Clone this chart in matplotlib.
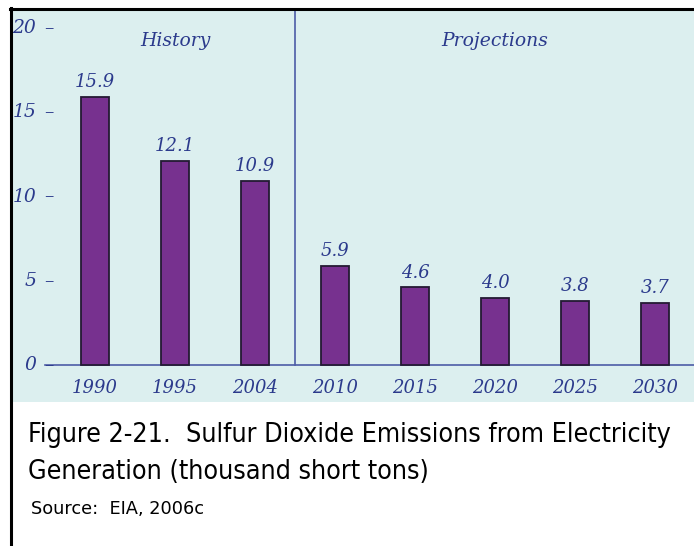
import matplotlib.pyplot as plt
from matplotlib.lines import Line2D

years = ['1990', '1995', '2004', '2010', '2015', '2020', '2025', '2030']
emissions = [15.9, 12.1, 10.9, 5.9, 4.6, 4.0, 3.8, 3.7]
yticks = [0, 5, 10, 15, 20]
n_history = 3

W, H = 694, 546
fig = plt.figure(figsize=(W / 100, H / 100), dpi=100)

def fx(px):
    return px / W

def fy(py):
    return 1 - py / H

# panel (light cyan area)
ax = fig.add_axes([fx(12), fy(402), fx(694) - fx(12), fy(10) - fy(402)])
ax.set_facecolor('#dcefef')
for s in ax.spines.values():
    s.set_visible(False)
ax.set_xticks([])
ax.set_yticks([])

txt_col = '#2b3a8c'
line_col = '#4d5ca6'
serif = dict(family='DejaVu Serif', style='italic', color=txt_col)

x = list(range(len(years)))
ax.bar(x, emissions, width=0.36, color='#77318f', edgecolor='#231a33', linewidth=1.3, zorder=3)
ax.set_xlim(-1.0375, 7.4875)
ax.set_ylim(-2.196, 21.07)

# zero line and history / projections divider
ax.axhline(0, xmin=33 / 682, color=line_col, lw=1.2, zorder=2)
ylo, yhi = ax.get_ylim()
ax.axvline(n_history - 0.5, ymin=(0 - ylo) / (yhi - ylo), color=line_col, lw=1.2, zorder=2)

# y tick labels (right aligned) with dash marks
ytr = ax.get_yaxis_transform()
for t in yticks:
    ax.text(24 / 682, t, str(t), transform=ytr, ha='right', va='center', fontsize=13.5, **serif)
    ax.text(37 / 682, t, '\u2013', transform=ytr, ha='center', va='center', fontsize=13.5, **serif)

for xi, v, yr in zip(x, emissions, years):
    ax.text(xi, v + 0.35, f'{v:.1f}', ha='center', va='bottom', fontsize=13, **serif)
    ax.text(xi, -1.35, yr, ha='center', va='center', fontsize=13, **serif)

ax.text((n_history - 1) / 2, 19.25, 'History', ha='center', va='center', fontsize=13.5, **serif)
ax.text((n_history + len(years) - 1) / 2, 19.25, 'Projections', ha='center', va='center', fontsize=13.5, **serif)

# caption
cap = dict(family='DejaVu Sans', fontstretch='condensed', color='black', ha='left', va='center')
fig.text(fx(28), fy(435), 'Figure 2-21.  Sulfur Dioxide Emissions from Electricity', fontsize=19.3, **cap)
fig.text(fx(28), fy(472), 'Generation (thousand short tons)', fontsize=19.3, **cap)
fig.text(fx(31), fy(509), 'Source:  EIA, 2006c', family='DejaVu Sans', fontsize=12.8, ha='left', va='center')

# black frame on left and top
fig.add_artist(Line2D([fx(11), fx(11)], [fy(8), 0], color='black', lw=2.2, solid_capstyle='projecting'))
fig.add_artist(Line2D([fx(10), 1], [fy(9), fy(9)], color='black', lw=2.2, solid_capstyle='projecting'))

fig.savefig('out.png', dpi=100)
